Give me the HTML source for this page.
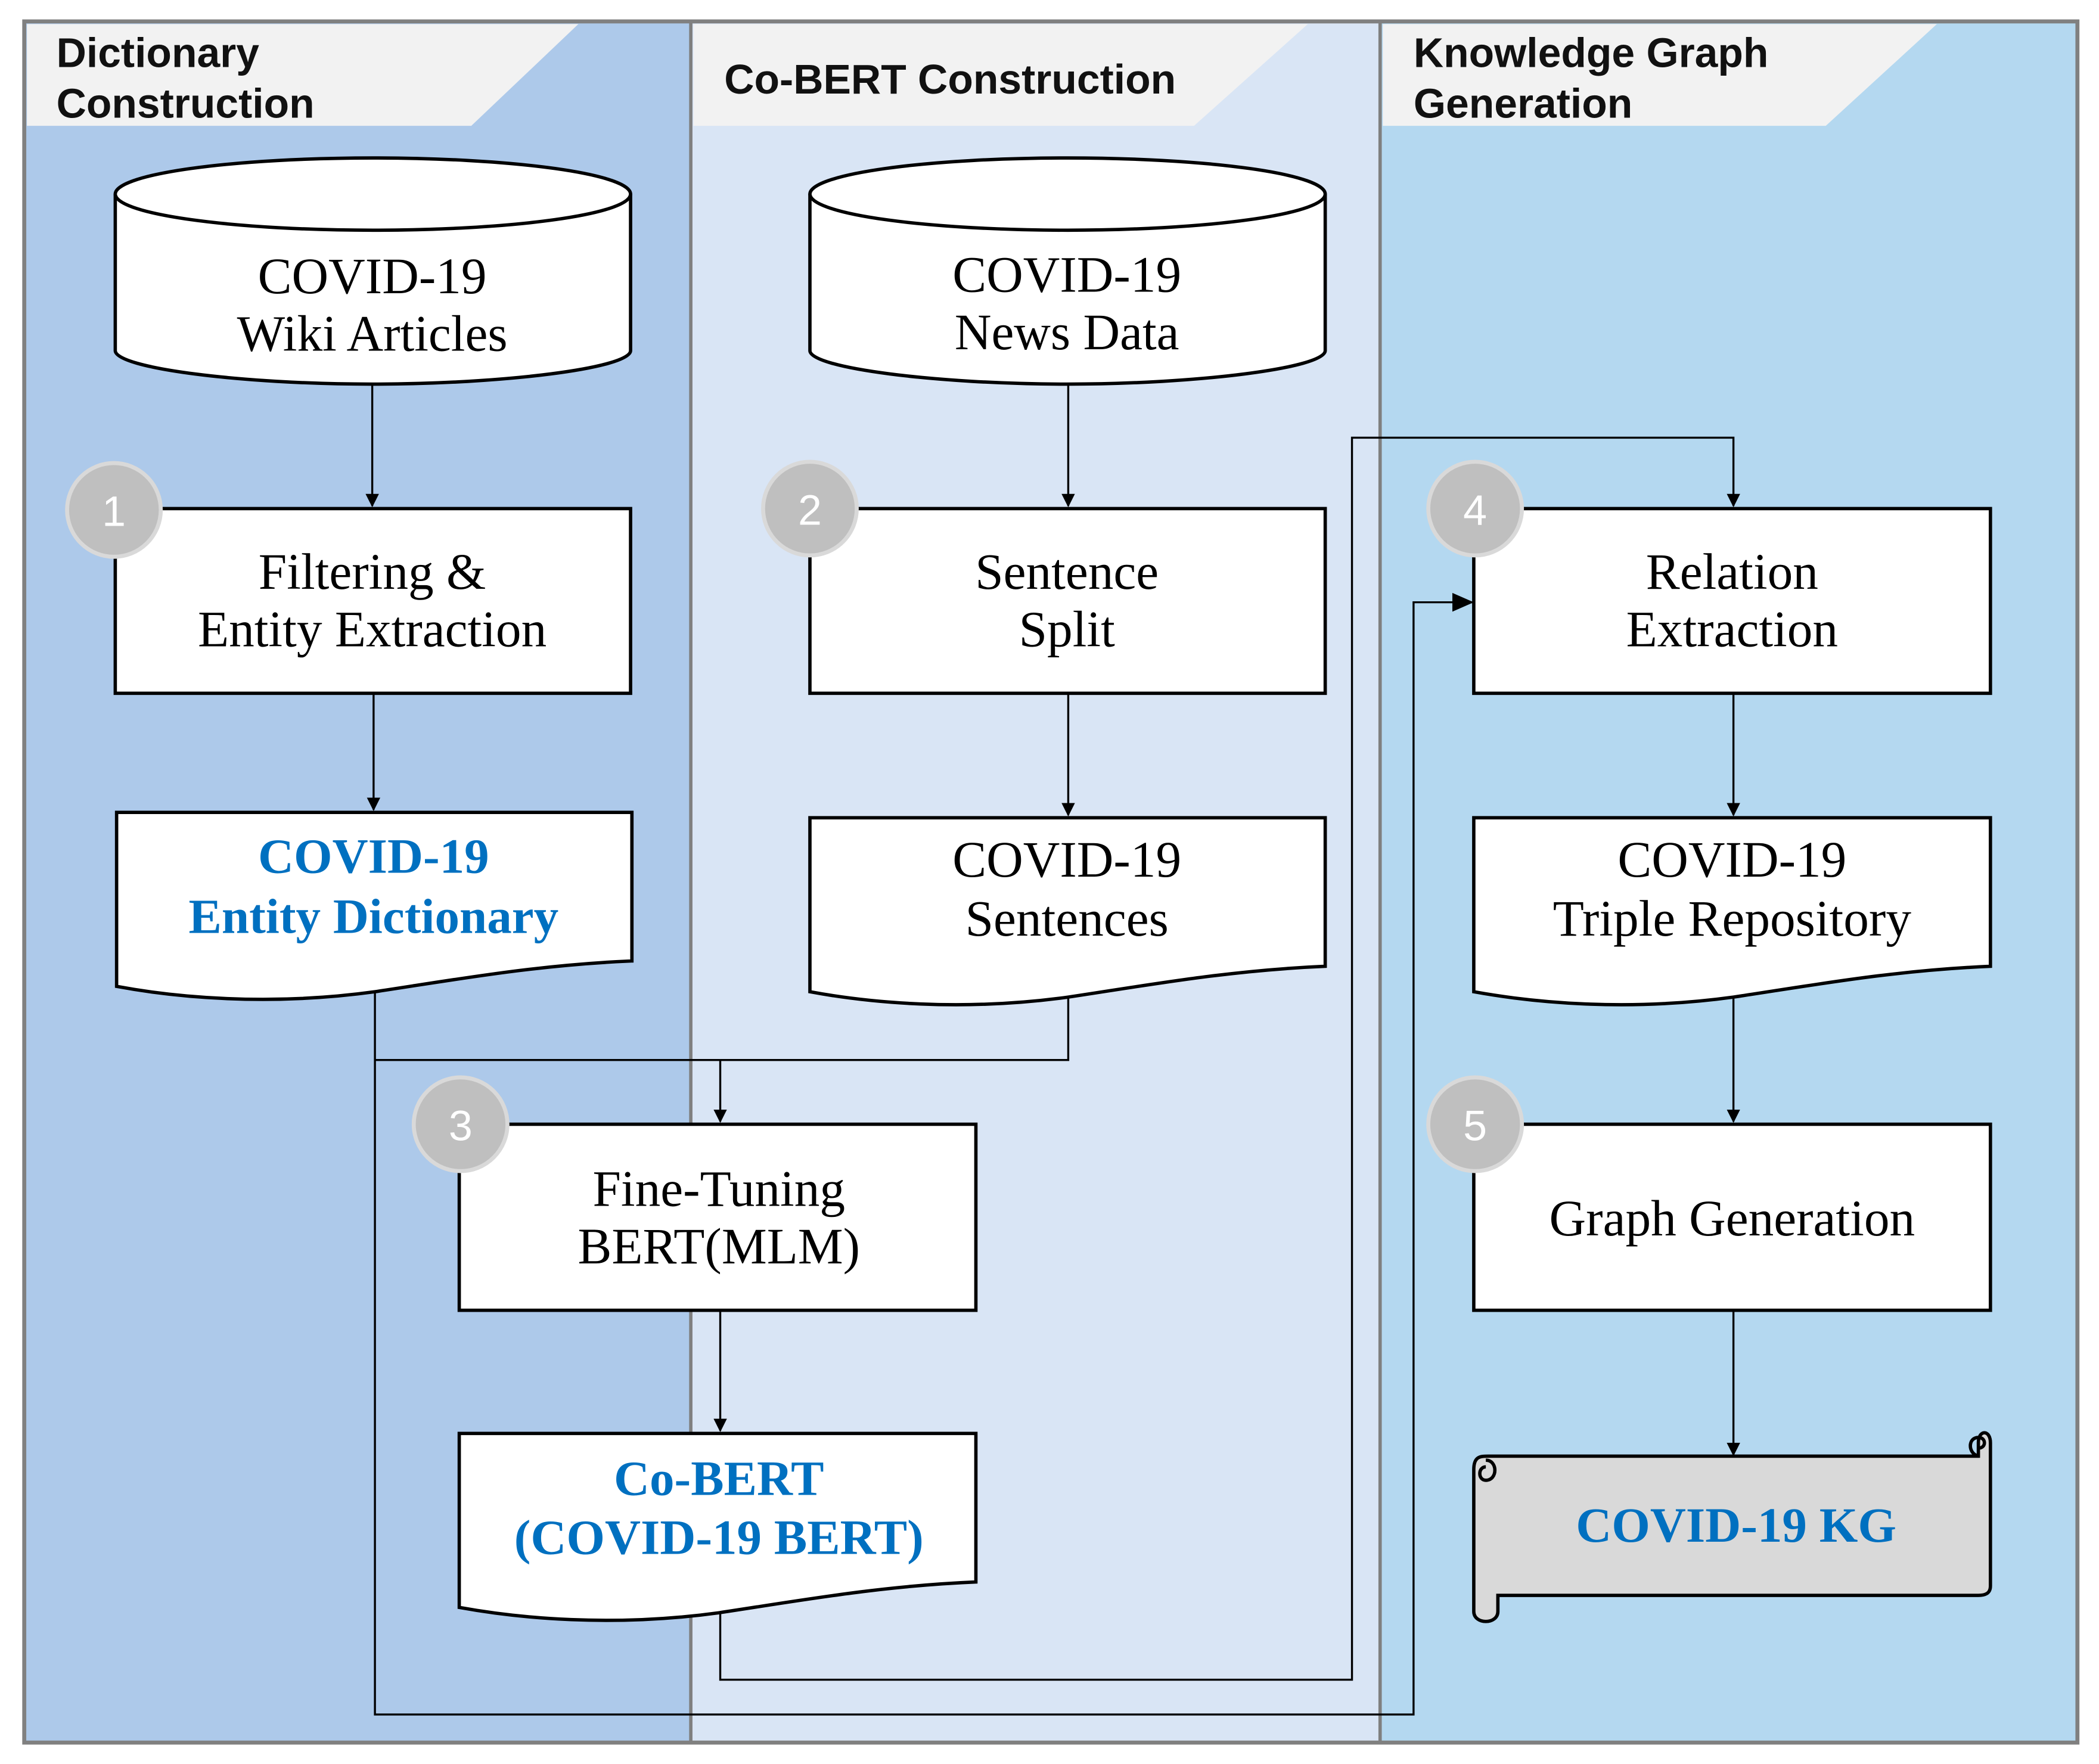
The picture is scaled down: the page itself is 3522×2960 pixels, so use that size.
<!DOCTYPE html>
<html><head><meta charset="utf-8"><style>html,body{margin:0;padding:0;background:#fff}svg{display:block}</style></head>
<body>
<svg width="3522" height="2960" viewBox="0 0 1568 1318" xmlns="http://www.w3.org/2000/svg">
<defs>
<marker id="ar" markerWidth="10" markerHeight="10" refX="9" refY="5" orient="auto" markerUnits="userSpaceOnUse"><path d="M0,0 L10,5 L0,10 Z" fill="#000"/></marker>
<marker id="ar2" markerWidth="16" markerHeight="14" refX="15" refY="7" orient="auto" markerUnits="userSpaceOnUse"><path d="M0,0 L16,7 L0,14 Z" fill="#000"/></marker>
</defs>
<rect x="0" y="0" width="1568" height="1318" fill="#fff"/>
<rect x="18" y="16" width="498" height="1286" fill="#adc9ea"/>
<rect x="516" y="16" width="515" height="1286" fill="#d9e5f5"/>
<rect x="1031" y="16" width="521" height="1286" fill="#b4d8f0"/>
<polygon points="20,18 432,18 352,94 20,94" fill="#f2f2f2"/>
<polygon points="518,18 977,18 892,94 518,94" fill="#f2f2f2"/>
<polygon points="1033,18 1447,18 1364,94 1033,94" fill="#f2f2f2"/>
<line x1="516" y1="16" x2="516" y2="1302" stroke="#7f7f7f" stroke-width="2.5"/>
<line x1="1031" y1="16" x2="1031" y2="1302" stroke="#7f7f7f" stroke-width="2.5"/>
<rect x="18" y="16" width="1534" height="1286" fill="none" stroke="#808080" stroke-width="3"/>
<g font-family="'Liberation Sans',sans-serif" font-weight="bold" font-size="31" fill="#111">
<text x="42" y="50">Dictionary</text><text x="42" y="88">Construction</text>
<text x="541" y="70">Co-BERT Construction</text>
<text x="1056" y="50">Knowledge Graph</text><text x="1056" y="88">Generation</text>
</g>
<g stroke="#000" stroke-width="2.5" fill="#fff">
<path d="M86,145 V262 C86,275 180,287 278,287 C376,287 471,275 471,262 V145"/>
<ellipse cx="278.5" cy="145" rx="192.5" ry="27"/>
<path d="M605,145 V262 C605,275 700,287 797,287 C894,287 990,275 990,262 V145"/>
<ellipse cx="797.5" cy="145" rx="192.5" ry="27"/>
<rect x="86" y="380" width="385" height="138"/>
<rect x="605" y="380" width="385" height="138"/>
<rect x="1101" y="380" width="386" height="138"/>
<rect x="343" y="840" width="386" height="139"/>
<rect x="1101" y="840" width="386" height="139"/>
<path d="M87,607 H472 V718 C400,721 340,732 280,741 C200,752 130,745 87,737 Z"/>
<path d="M605,611 H990 V722 C918,725 858,736 798,745 C718,756 648,749 605,741 Z"/>
<path d="M1101,611 H1487 V722 C1415,725 1355,736 1295,745 C1215,756 1145,749 1101,741 Z"/>
<path d="M343,1071 H729 V1182 C657,1185 597,1196 537,1205 C457,1216 387,1209 343,1201 Z"/>
<path d="M1112,1088 H1478 V1078 C1478,1068 1487,1068 1487,1078 V1185 C1487,1190 1484,1192 1478,1192 H1119 V1204 C1119,1214 1101,1214 1101,1204 V1098 C1101,1088 1106,1088 1112,1088 Z" fill="#d9d9d9"/>
<path d="M1110,1091 C1119,1091 1119,1106 1110,1106 C1104,1106 1104,1096 1110,1096" fill="none"/>
<path d="M1478,1088 C1470,1086 1470,1074 1478,1074 C1484,1074 1484,1082 1478,1082" fill="none"/>
</g>
<g fill="#bfbfbf" stroke="#d9d9d9" stroke-width="3">
<circle cx="85" cy="381" r="35"/><circle cx="605" cy="380" r="35"/><circle cx="344" cy="840" r="35"/>
<circle cx="1102" cy="380" r="35"/><circle cx="1102" cy="840" r="35"/>
</g>
<g font-family="'Liberation Sans',sans-serif" font-size="32" fill="#fff" text-anchor="middle">
<text x="85" y="393">1</text><text x="605" y="392">2</text><text x="344" y="852">3</text><text x="1102" y="392">4</text><text x="1102" y="852">5</text>
</g>
<g stroke="#000" stroke-width="1.5" fill="none">
<line x1="278" y1="287" x2="278" y2="378" marker-end="url(#ar)"/>
<line x1="279" y1="518" x2="279" y2="605" marker-end="url(#ar)"/>
<line x1="798" y1="287" x2="798" y2="378" marker-end="url(#ar)"/>
<line x1="798" y1="518" x2="798" y2="609" marker-end="url(#ar)"/>
<line x1="1295" y1="518" x2="1295" y2="609" marker-end="url(#ar)"/>
<line x1="1295" y1="745" x2="1295" y2="838" marker-end="url(#ar)"/>
<line x1="1295" y1="979" x2="1295" y2="1087" marker-end="url(#ar)"/>
<line x1="538" y1="979" x2="538" y2="1069" marker-end="url(#ar)"/>
<polyline points="280,741 280,1281 1056,1281 1056,450 1100,450" marker-end="url(#ar2)"/>
<line x1="280" y1="792" x2="538" y2="792"/>
<polyline points="798,745 798,792 538,792 538,838" marker-end="url(#ar)"/>
<polyline points="538,1205 538,1255 1010,1255 1010,327 1295,327 1295,378" marker-end="url(#ar)"/>
</g>
<g font-family="'Liberation Serif',serif" font-size="38" fill="#000" text-anchor="middle">
<text x="278" y="219">COVID-19</text><text x="278" y="262">Wiki Articles</text>
<text x="797" y="218">COVID-19</text><text x="797" y="261">News Data</text>
<text x="278" y="440">Filtering &amp;</text><text x="278" y="483">Entity Extraction</text>
<text x="797" y="440">Sentence</text><text x="797" y="483">Split</text>
<text x="1294" y="440">Relation</text><text x="1294" y="483">Extraction</text>
<text x="797" y="655">COVID-19</text><text x="797" y="699">Sentences</text>
<text x="1294" y="655">COVID-19</text><text x="1294" y="699">Triple Repository</text>
<text x="537" y="901">Fine-Tuning</text><text x="537" y="944">BERT(MLM)</text>
<text x="1294" y="923">Graph Generation</text>
</g>
<g font-family="'Liberation Serif',serif" font-size="37" font-weight="bold" fill="#0070c0" text-anchor="middle">
<text x="279" y="652">COVID-19</text><text x="279" y="697">Entity Dictionary</text>
<text x="537" y="1117">Co-BERT</text><text x="537" y="1161">(COVID-19 BERT)</text>
<text x="1297" y="1152">COVID-19 KG</text>
</g>
</svg>
</body></html>
